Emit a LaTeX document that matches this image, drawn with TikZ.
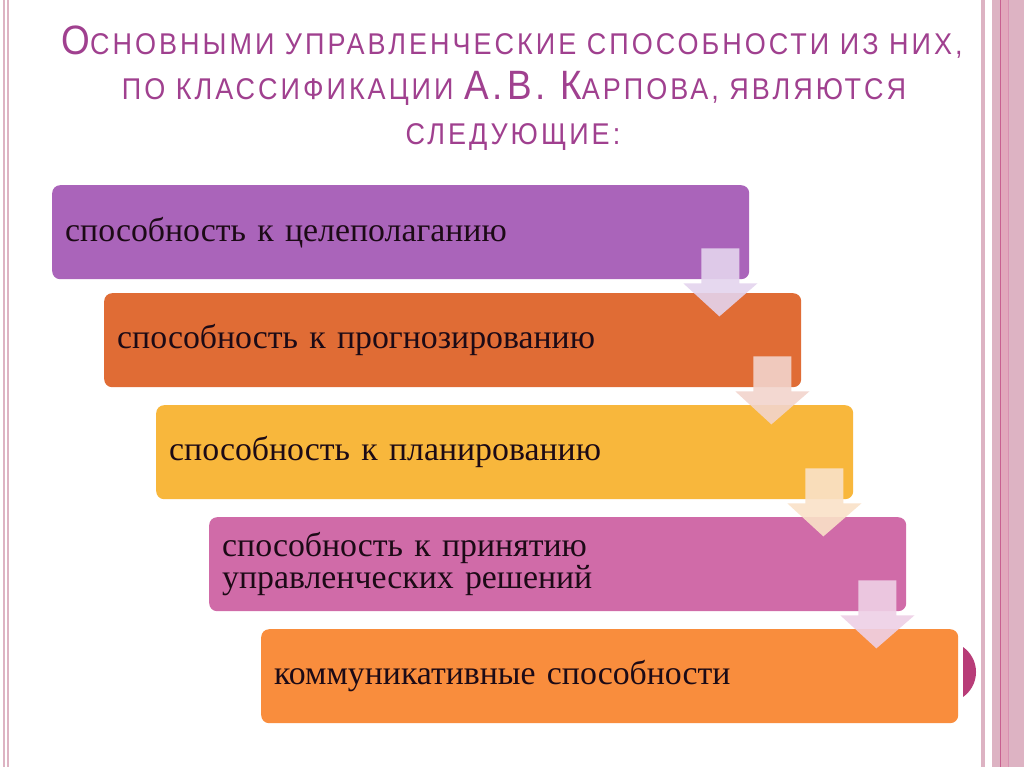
\documentclass[tikz,border=0pt]{standalone}
\usepackage{fontspec}
\setmainfont{Liberation Serif}
\newfontfamily\titlefont[FakeStretch=0.9,LetterSpace=10]{Liberation Sans}
\definecolor{titlec}{HTML}{A0408F}
\definecolor{c1}{HTML}{AA64BA}
\definecolor{c2}{HTML}{E06C35}
\definecolor{c3}{HTML}{F8B73C}
\definecolor{c4}{HTML}{D06BA8}
\definecolor{c5}{HTML}{F98D3D}
\definecolor{a1}{HTML}{E4D4EE}
\definecolor{a2}{HTML}{F2D4CC}
\definecolor{a3}{HTML}{FAE2C8}
\definecolor{a4}{HTML}{EED0E6}
\definecolor{seg}{HTML}{B83C78}
\definecolor{txt}{HTML}{1C0A16}
\definecolor{bord}{HTML}{DDB3C3}
\definecolor{bordb}{HTML}{E2A8BC}
\definecolor{bordd}{HTML}{C86090}
\newcommand{\BC}[2]{{\fontsize{41}{44}\selectfont #1}{\fontsize{30}{44}\selectfont #2}}
\tikzset{
  box/.style={anchor=north west, rounded corners=8pt, minimum width=697pt, minimum height=94pt,
    text width=671pt, inner xsep=13pt, align=left, text=txt,
    font=\fontsize{33.8}{30}\selectfont},
  blockarrow/.style={opacity=0.9},
  titletxt/.style={text=titlec, font=\titlefont, anchor=base, inner sep=0pt}
}
\begin{document}
\begin{tikzpicture}[x=1pt,y=-1pt]
\useasboundingbox (0,0) rectangle (1024,767);
\fill[white] (0,0) rectangle (1024,767);
% borders
\fill[bord] (3.3,0) rectangle (4.8,767);
\fill[bord] (6.8,0) rectangle (8.8,767);
\fill[bord] (981,0) rectangle (985,767);
\fill[bord] (992,0) rectangle (1000,767);
\fill[bordd] (1000,0) rectangle (1001.2,767);
\fill[bordb] (1001.2,0) rectangle (1008,767);
\fill[bordd!70] (1008,0) rectangle (1009,767);
\fill[bord] (1009,0) rectangle (1024,767);
% title
\node[titletxt] (t1) at (512,55) {\BC{О}{СНОВНЫМИ УПРАВЛЕНЧЕСКИЕ СПОСОБНОСТИ ИЗ НИХ,}};
\node[titletxt] (t2) at (514,100) {\BC{}{ПО КЛАССИФИКАЦИИ }\BC{А.В. К}{АРПОВА, ЯВЛЯЮТСЯ}};
\node[titletxt] (t3) at (513,145) {\BC{}{СЛЕДУЮЩИЕ:}};
% segment behind last box
\begin{scope}
\clip (963,600) rectangle (1000,720);
\fill[seg] (945.5,672) circle (30.5);
\end{scope}
% boxes
\node[box, fill=c1] (b1) at (52,185) {способность к целеполаганию};
\node[box, fill=c2] (b2) at (104,293) {способность к прогнозированию};
\node[box, fill=c3] (b3) at (156,405) {способность к планированию};
\node[box, fill=c4] (b4) at (209,517) {способность к принятию\\управленческих решений};
\node[box, fill=c5] (b5) at (261,629) {коммуникативные способности};
% block arrows
\foreach \b/\c in {b1/a1,b2/a2,b3/a3,b4/a4}{
  \fill[blockarrow, fill=\c] ([xshift=-48pt,yshift=31pt]\b.south east) -- ([xshift=-10pt,yshift=31pt]\b.south east)
    -- ([xshift=-10pt,yshift=-4pt]\b.south east) -- ([xshift=8pt,yshift=-4pt]\b.south east)
    -- ([xshift=-30pt,yshift=-37pt]\b.south east) -- ([xshift=-66pt,yshift=-4pt]\b.south east)
    -- ([xshift=-48pt,yshift=-4pt]\b.south east) -- cycle;
}
\end{tikzpicture}
\end{document}
